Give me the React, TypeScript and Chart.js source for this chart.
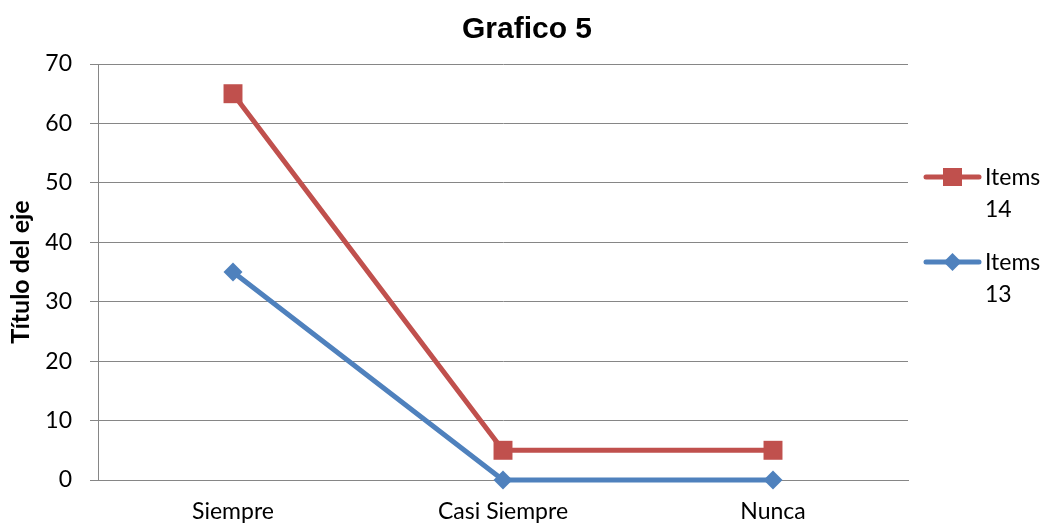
import React, { useEffect, useRef } from "react";
import { Chart, registerables } from "chart.js";

Chart.register(...registerables);

const categories = ["Siempre", "Casi Siempre", "Nunca"];
const items14 = [65, 5, 5];
const items13 = [35, 0, 0];
const seriesNames = [["Items", "14"], ["Items", "13"]];
const chartTitle = "Grafico 5";
const yTitle = "Título del eje";

const RED = "#C0504D";
const BLUE = "#4F81BD";
const GRID = "#868686";

const overlayPlugin = {
  id: "overlay",
  afterDraw(chart: any) {
    const ctx = chart.ctx as CanvasRenderingContext2D;
    ctx.save();
    // Title
    ctx.fillStyle = "#000";
    ctx.font = "bold 30px 'Liberation Sans', Arial, sans-serif";
    ctx.textAlign = "center";
    ctx.textBaseline = "alphabetic";
    ctx.fillText(chartTitle, 527, 38);

    // Legend
    const entries = [
      { label: seriesNames[0], color: RED, shape: "rect", y: 177 },
      { label: seriesNames[1], color: BLUE, shape: "diamond", y: 262 },
    ];
    for (const e of entries) {
      ctx.strokeStyle = e.color;
      ctx.lineWidth = 5;
      ctx.lineCap = "round";
      ctx.beginPath();
      ctx.moveTo(926, e.y);
      ctx.lineTo(979, e.y);
      ctx.stroke();
      ctx.fillStyle = e.color;
      ctx.beginPath();
      if (e.shape === "rect") {
        ctx.rect(943, e.y - 9, 19, 18);
      } else {
        const cx = 952.5, r = 9;
        ctx.moveTo(cx - r, e.y);
        ctx.lineTo(cx, e.y - r);
        ctx.lineTo(cx + r, e.y);
        ctx.lineTo(cx, e.y + r);
        ctx.closePath();
      }
      ctx.fill();
      ctx.fillStyle = "#000";
      ctx.font = "23px Lato, sans-serif";
      ctx.textAlign = "left";
      ctx.textBaseline = "alphabetic";
      ctx.fillText(e.label[0], 985, e.y + 8);
      ctx.fillText(e.label[1], 985, e.y + 40);
    }
    ctx.restore();
  },
};

export default function App() {
  const ref = useRef<HTMLCanvasElement | null>(null);
  useEffect(() => {
    if (!ref.current) return;
    const chart = new Chart(ref.current, {
      type: "line",
      data: {
        labels: categories,
        datasets: [
          {
            label: "Items 14",
            data: items14,
            borderColor: RED,
            backgroundColor: RED,
            borderWidth: 5,
            pointStyle: "rect",
            pointRadius: 13.4,
            pointBorderWidth: 0,
            pointBackgroundColor: RED,
            tension: 0,
            borderJoinStyle: "round",
            clip: false,
          },
          {
            label: "Items 13",
            data: items13,
            borderColor: BLUE,
            backgroundColor: BLUE,
            borderWidth: 5,
            pointStyle: "rectRot",
            pointRadius: 9.5,
            pointBorderWidth: 0,
            pointBackgroundColor: BLUE,
            tension: 0,
            borderJoinStyle: "round",
            clip: false,
          },
        ],
      },
      options: {
        animation: false,
        responsive: false,
        maintainAspectRatio: false,
        layout: { padding: { top: 64, right: 140, left: 0, bottom: 0 } },
        plugins: {
          legend: { display: false },
          title: { display: false },
          tooltip: { enabled: false },
        },
        scales: {
          x: {
            offset: true,
            grid: { display: false, drawTicks: false },
            border: { display: true, color: GRID, width: 1 },
            ticks: {
              color: "#000",
              font: { family: "Lato", size: 23 },
              padding: 18,
              maxRotation: 0,
            },
            afterFit(scale: any) {
              scale.height = 45;
            },
          },
          y: {
            min: 0,
            max: 70,
            ticks: {
              stepSize: 10,
              color: "#000",
              font: { family: "Lato", size: 23 },
              padding: 18,
            },
            grid: { color: GRID, lineWidth: 1, tickLength: 8, drawTicks: true },
            border: { display: true, color: GRID, width: 1 },
            title: {
              display: true,
              text: yTitle,
              color: "#000",
              font: { family: "Lato", size: 25, weight: "bold" },
              padding: { top: 6, bottom: 0 },
            },
            afterFit(scale: any) {
              scale.width = 98;
            },
          },
        },
      },
      plugins: [overlayPlugin],
    });
    return () => chart.destroy();
  }, []);
  return (
    <div style={{ position: "fixed", left: 0, top: 0, width: 1048, height: 525, background: "#fff" }}>
      <canvas ref={ref} width={1048} height={525} style={{ width: 1048, height: 525, display: "block" }} />
    </div>
  );
}
